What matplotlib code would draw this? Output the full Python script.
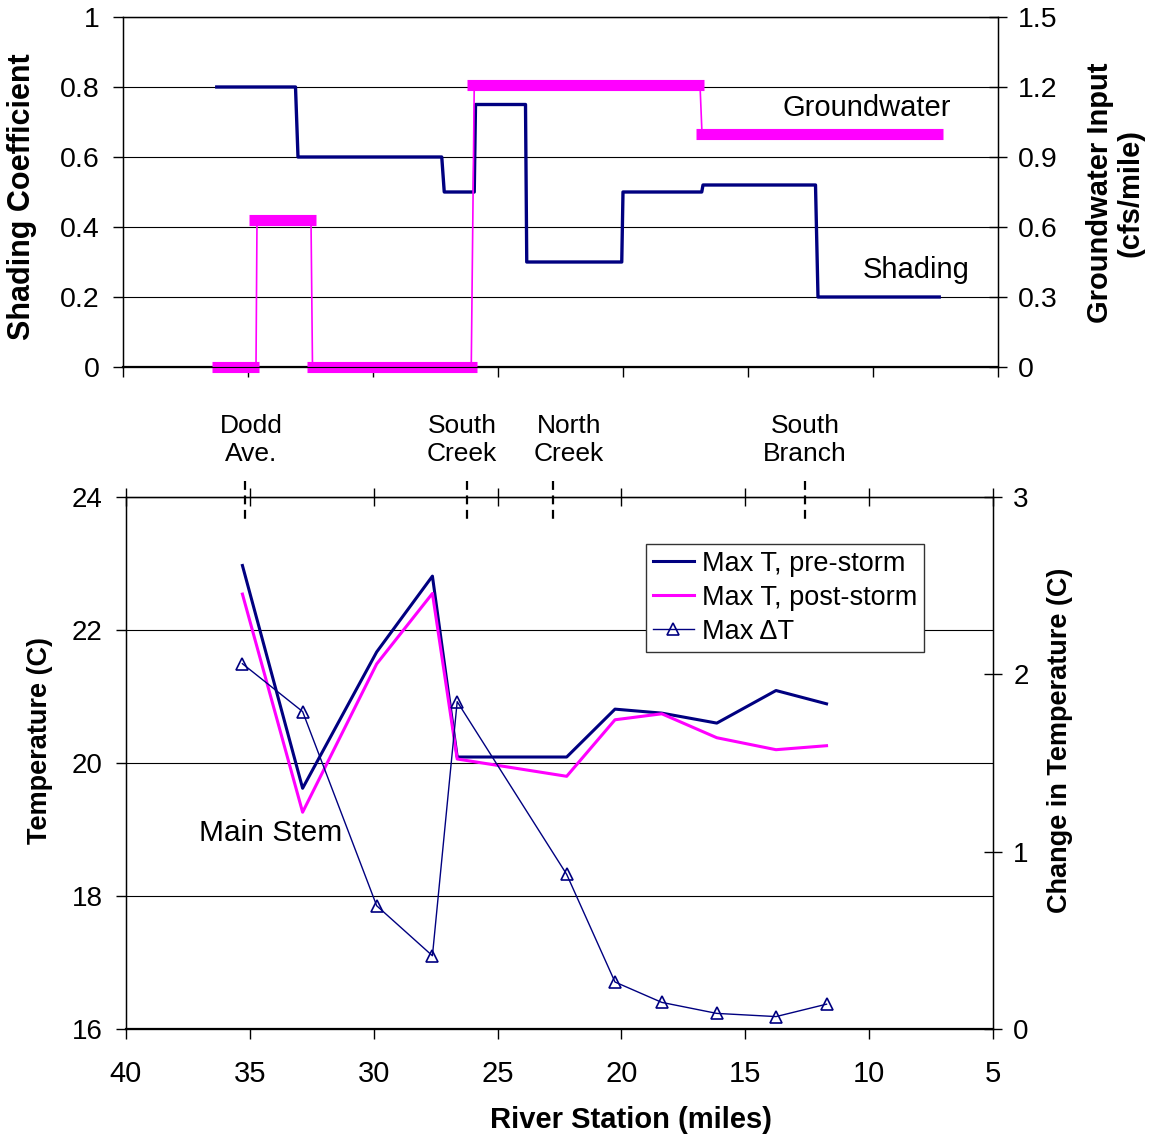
"""Shading / groundwater inputs (top) and storm temperature response (bottom)."""

import matplotlib
matplotlib.use('Agg')
import matplotlib.pyplot as plt
from matplotlib.ticker import FuncFormatter

plt.rcParams['font.family'] = ['Liberation Sans', 'DejaVu Sans']

NAVY = '#000080'
MAGENTA = '#FF00FF'

# =============================================================================
# Data (river station in miles)
# =============================================================================

# shading coefficient, step profile
shade_x = [36.25, 33.1, 33.0, 27.25, 27.15, 25.95, 25.9, 23.9, 23.85,
           20.05, 20.0, 16.85, 16.8, 12.3, 12.2, 7.35]
shade_y = [0.8, 0.8, 0.6, 0.6, 0.5, 0.5, 0.75, 0.75, 0.3,
           0.3, 0.5, 0.5, 0.52, 0.52, 0.2, 0.2]

# groundwater input (cfs/mile): thick reaches + thin connectors
gw_start = [36.45, 34.95, 32.65, 26.25, 17.1]
gw_end   = [34.55, 32.3, 25.85, 16.75, 7.2]
gw_value = [0.0, 0.63, 0.0, 1.21, 1.0]
gw_link_x = [34.68, 34.64, 32.48, 32.42, 26.07, 25.95, 16.92, 16.84]
gw_link_y = [0.0, 0.63, 0.63, 0.0, 0.0, 1.21, 1.21, 1.0]

# temperatures at the monitoring stations
station  = [35.3, 32.87, 29.88, 27.63, 26.63, 22.21, 20.26, 18.37, 16.15, 13.76, 11.72]
t_pre    = [22.97, 19.62, 21.67, 22.81, 20.09, 20.09, 20.81, 20.75, 20.6, 21.09, 20.89]
t_post   = [22.54, 19.26, 21.49, 22.55, 20.06, 19.8, 20.65, 20.74, 20.38, 20.2, 20.26]
delta_t  = [2.06, 1.79, 0.695, 0.413, 1.846, 0.872, 0.265, 0.15, 0.088, 0.07, 0.14]

# tributary markers and their labels
trib_x     = [35.2, 26.23, 22.76, 12.59]
trib_lab_x = [34.95, 26.44, 22.13, 12.59]
trib_names = ['Dodd\nAve.', 'South\nCreek', 'North\nCreek', 'South\nBranch']

X_TICKS = [40, 35, 30, 25, 20, 15, 10, 5]

# =============================================================================
# Figure
# =============================================================================

W, H = 1155, 1139
fig = plt.figure(figsize=(W / 100, H / 100), dpi=100)


def px_axes(l, t, r, b):
    return fig.add_axes([l / W, 1 - b / H, (r - l) / W, (b - t) / H])


fmt = FuncFormatter(lambda v, _: f'{v:g}')
FS_TOP = 20.5
FS_BOT = 20

# --- top panel --------------------------------------------------------------
ax = px_axes(123, 17, 998, 367)
ax.set_xlim(40, 5)
ax.set_ylim(0, 1)
ax.set_xticks(X_TICKS)
ax.set_xticklabels([])
ax.set_yticks([0, 0.2, 0.4, 0.6, 0.8, 1.0])
ax.yaxis.set_major_formatter(fmt)
ax.tick_params(axis='y', direction='out', length=7, width=1, labelsize=FS_TOP, pad=10)
ax.tick_params(axis='x', direction='out', length=7, width=1)
ax.grid(axis='y', color='black', lw=0.8)
ax.set_axisbelow(True)
for s in ax.spines.values():
    s.set_linewidth(1)
ax.spines['bottom'].set_linewidth(1.6)
ax.plot(shade_x, shade_y, color=NAVY, lw=2.4, zorder=3)
ax.text(10.24, 0.74, 'Groundwater', fontsize=21, ha='center', va='center')
ax.text(8.28, 0.277, 'Shading', fontsize=21, ha='center', va='center')

ax2 = ax.twinx()
ax2.set_ylim(0, 1.5)
ax2.set_yticks([0, 0.3, 0.6, 0.9, 1.2, 1.5])
ax2.yaxis.set_major_formatter(fmt)
ax2.tick_params(axis='y', direction='inout', length=13, width=1, labelsize=FS_TOP, pad=8)
ax2.plot(gw_link_x, gw_link_y, color=MAGENTA, lw=1.2, clip_on=False)
for x0, x1, v in zip(gw_start, gw_end, gw_value):
    ax2.plot([x0, x1], [v, v], color=MAGENTA, lw=8, solid_capstyle='butt', clip_on=False)

# --- bottom panel -----------------------------------------------------------
bx = px_axes(126, 497, 993, 1029)
bx.set_xlim(40, 5)
bx.set_ylim(16, 24)
bx.set_xticks(X_TICKS)
bx.xaxis.set_major_formatter(fmt)
bx.set_yticks([16, 18, 20, 22, 24])
bx.tick_params(axis='y', direction='out', length=7, width=1, labelsize=FS_BOT, pad=10)
bx.tick_params(axis='x', which='both', direction='out', length=7, width=1,
               labelsize=21, pad=15)
bx.grid(axis='y', color='black', lw=0.8)
bx.set_axisbelow(True)
for s in bx.spines.values():
    s.set_linewidth(1)
bx.spines['bottom'].set_linewidth(1.6)

top = bx.secondary_xaxis('top')
top.set_xticks(X_TICKS)
top.set_xticklabels([])
top.tick_params(direction='inout', length=13, width=1)

l_pre, = bx.plot(station, t_pre, color=NAVY, lw=2.2, label='Max T, pre-storm')
l_post, = bx.plot(station, t_post, color=MAGENTA, lw=2.2, label='Max T, post-storm')
bx.text(34.15, 18.95, 'Main Stem', fontsize=21.5, ha='center', va='center')

for x in trib_x:
    bx.plot([x, x], [24.24, 23.65], color='black', lw=1.6, ls=(0, (4, 2.5)),
            clip_on=False)
for x, name in zip(trib_lab_x, trib_names):
    bx.text(x, 24.86, name, fontsize=19, ha='center', va='center',
            linespacing=1.2, clip_on=False)

bx2 = bx.twinx()
bx2.set_ylim(0, 3)
bx2.set_yticks([0, 1, 2, 3])
bx2.tick_params(axis='y', direction='inout', length=13, width=1, labelsize=FS_BOT, pad=8)
l_dt, = bx2.plot(station, delta_t, color=NAVY, lw=1, marker='^', ms=8,
                 mfc='none', mec=NAVY, mew=1.2, label='Max ΔT')

leg = bx2.legend(handles=[l_pre, l_post, l_dt], loc='upper left',
                 bbox_to_anchor=(0.600, 0.912), fontsize=19.5, frameon=True,
                 fancybox=False, framealpha=1, edgecolor='#333333',
                 handlelength=1.5, handletextpad=0.3, labelspacing=0.3,
                 borderpad=0.25, borderaxespad=0)
leg.get_frame().set_linewidth(1)

# --- axis titles ------------------------------------------------------------
bold = dict(fontweight='bold', ha='center', va='center')
fig.text(22 / W, 1 - 197 / H, 'Shading Coefficient', rotation=90, fontsize=22, **bold)
fig.text(1115 / W, 1 - 193 / H, 'Groundwater Input\n(cfs/mile)', rotation=90,
         linespacing=1.1, fontsize=21, **bold)
fig.text(40 / W, 1 - 741 / H, 'Temperature (C)', rotation=90, fontsize=19.5, **bold)
fig.text(1060 / W, 1 - 740 / H, 'Change in Temperature (C)', rotation=90,
         fontsize=19.5, **bold)
fig.text(631 / W, 1 - 1120 / H, 'River Station (miles)', fontsize=21, **bold)

fig.savefig('out.png', dpi=100)
